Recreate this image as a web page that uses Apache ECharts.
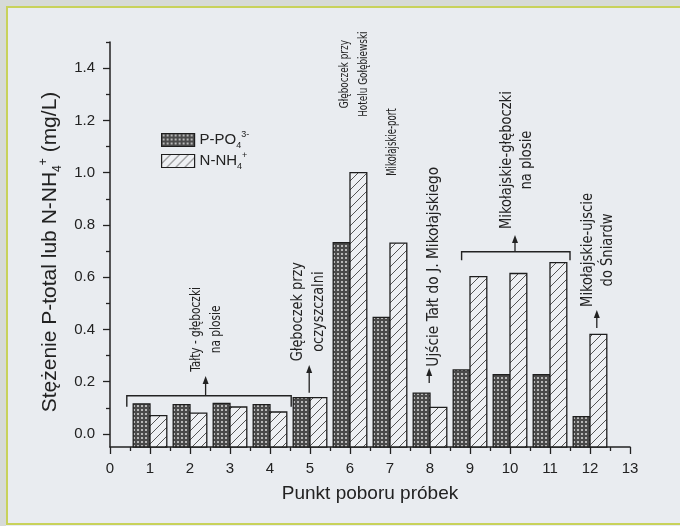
<!DOCTYPE html>
<html>
<head>
<meta charset="utf-8">
<script src="https://cdn.jsdelivr.net/npm/echarts@6/dist/echarts.min.js"></script>
<style>
html,body{margin:0;padding:0;background:#e9ecf0;}
#chart{width:680px;height:526px;}
</style>
</head>
<body>
<div id="chart"></div>
<script>
// ---- data ----
const sites = [1, 2, 3, 4, 5, 6, 7, 8, 9, 10, 11, 12];
const pPO4  = [0.115, 0.112, 0.117, 0.112, 0.139, 0.732, 0.446, 0.156, 0.245, 0.227, 0.227, 0.066];
const nNH4  = [0.070, 0.080, 0.103, 0.084, 0.139, 1.000, 0.730, 0.102, 0.602, 0.614, 0.656, 0.381];
const xTickLabels = [0, 1, 2, 3, 4, 5, 6, 7, 8, 9, 10, 11, 12, 13];
const yMajorTicks = [0, 0.2, 0.4, 0.6, 0.8, 1.0, 1.2, 1.4];
const yMinorTicks = [0.1, 0.3, 0.5, 0.7, 0.9, 1.1, 1.3, 1.5];
const annotationTexts = [
  ['Tałty - głęboczki', 'na plosie'],
  ['Głęboczek przy', 'oczyszczalni'],
  ['Głęboczek przy', 'Hotelu Gołębiewski'],
  ['Mikołajskie-port'],
  ['Ujście Tałt do J. Mikołajskiego'],
  ['Mikołajskie-głęboczki', 'na plosie'],
  ['Mikołajskie-ujscie', 'do Śniardw']
];

// ---- layout (axis units) and text styling ----
const Y_MIN = -0.05, Y_MAX = 1.5, X_MIN = 0, X_MAX = 13;
const HALF_W = 0.42;
const annotationLayout = [
  {tx: 2.42, ty: 0.400, fs: 14, sx: 0.84, lh: 20, arrow: [2.39, 0.146, 0.222], bracket: [0.42, 4.53, 0.146, 0.104]},
  {tx: 4.97, ty: 0.468, fs: 15, sx: 0.96, lh: 21, arrow: [4.98, 0.158, 0.264]},
  {tx: 6.10, ty: 1.377, fs: 13, sx: 0.76, lh: 19},
  {tx: 7.05, ty: 1.117, fs: 14, sx: 0.68, lh: 20},
  {tx: 8.11, ty: 0.640, fs: 15, sx: 1.02, lh: 20, arrow: [7.98, 0.195, 0.252]},
  {tx: 10.18, ty: 1.048, fs: 15, sx: 0.97, lh: 20, arrow: [10.125, 0.697, 0.761], bracket: [8.79, 11.5, 0.697, 0.665]},
  {tx: 12.20, ty: 0.704, fs: 15, sx: 0.97, lh: 20, arrow: [12.17, 0.405, 0.474]}
];

const FONT = "'Liberation Sans', Arial, sans-serif";
const NARROW = "'Liberation Sans Narrow', 'Arial Narrow', 'DejaVu Sans Condensed', sans-serif";
const INK = '#222222';

function makeDotPattern() {
  const c = document.createElement('canvas');
  c.width = 4; c.height = 4;
  const g = c.getContext('2d');
  g.fillStyle = '#4a4a4a'; g.fillRect(0, 0, 4, 4);
  g.fillStyle = '#b8b8b8'; g.fillRect(1, 1, 2, 2);
  return {image: c, repeat: 'repeat'};
}
function makeHatchPattern() {
  const s = 9;
  const c = document.createElement('canvas');
  c.width = s; c.height = s;
  const g = c.getContext('2d');
  g.fillStyle = '#eef0f3'; g.fillRect(0, 0, s, s);
  g.strokeStyle = '#555555'; g.lineWidth = 1;
  g.beginPath();
  g.moveTo(-1, s + 1); g.lineTo(s + 1, -1);
  g.moveTo(-1, 1); g.lineTo(1, -1);
  g.moveTo(s - 1, s + 1); g.lineTo(s + 1, s - 1);
  g.stroke();
  return {image: c, repeat: 'repeat'};
}
const patP = makeDotPattern();
const patN = makeHatchPattern();

function barRenderer(side, fill) {
  return function (params, api) {
    const x = api.value(0), v = api.value(1);
    const x0 = side < 0 ? x - HALF_W : x;
    const x1 = side < 0 ? x : x + HALF_W;
    const tl = api.coord([x0, v]);
    const br = api.coord([x1, Y_MIN]);
    return {
      type: 'rect',
      shape: {x: tl[0], y: tl[1], width: br[0] - tl[0], height: br[1] - tl[1]},
      style: {fill: fill, stroke: '#1e1e1e', lineWidth: 1.3}
    };
  };
}

function annRenderer(params, api) {
  const a = annotationLayout[params.dataIndex];
  const lines = annotationTexts[params.dataIndex];
  const children = [];
  const c = api.coord([a.tx, a.ty]);
  children.push({
    type: 'text', x: c[0], y: c[1], rotation: Math.PI / 2, scaleX: a.sx, scaleY: 1,
    style: {text: lines.join('\n'), fill: INK, fontSize: a.fs, fontFamily: NARROW,
            align: 'center', verticalAlign: 'middle', lineHeight: a.lh}
  });
  if (a.arrow) {
    const p0 = api.coord([a.arrow[0], a.arrow[1]]);
    const p1 = api.coord([a.arrow[0], a.arrow[2]]);
    children.push({type: 'line', shape: {x1: p0[0], y1: p0[1], x2: p1[0], y2: p1[1] + 5},
                   style: {stroke: INK, lineWidth: 1.3}});
    children.push({type: 'polygon', shape: {points: [[p1[0], p1[1]], [p1[0] - 3, p1[1] + 8], [p1[0] + 3, p1[1] + 8]]},
                   style: {fill: INK}});
  }
  if (a.bracket) {
    const b = a.bracket;
    const pts = [api.coord([b[0], b[3]]), api.coord([b[0], b[2]]), api.coord([b[1], b[2]]), api.coord([b[1], b[3]])];
    children.push({type: 'polyline', shape: {points: pts}, style: {stroke: INK, lineWidth: 1.4, fill: null}});
  }
  return {type: 'group', children: children};
}

const chart = echarts.init(document.getElementById('chart'), null, {renderer: 'canvas'});
const subSup = {
  sub: {fontSize: 9, lineHeight: 9, verticalAlign: 'bottom', fontFamily: FONT, color: INK},
  sup: {fontSize: 9, lineHeight: 9, verticalAlign: 'top', fontFamily: FONT, color: INK}
};

chart.setOption({
  backgroundColor: '#e9ecf0',
  animation: false,
  graphic: [
    {type: 'rect', shape: {x: 0, y: 0, width: 680, height: 6}, style: {fill: '#d6dad7'}, silent: true},
    {type: 'rect', shape: {x: 0, y: 0, width: 6, height: 526}, style: {fill: '#d6dad7'}, silent: true},
    {type: 'rect', shape: {x: 7, y: 7, width: 690, height: 517}, style: {fill: null, stroke: '#c8d25a', lineWidth: 2}, silent: true}
  ],
  grid: {left: 110, right: 50, top: 42, bottom: 79, containLabel: false, outerBoundsMode: 'none'},
  legend: {
    orient: 'vertical', left: 161, top: 130, padding: 0, itemGap: 1,
    icon: 'rect', itemWidth: 33, itemHeight: 13,
    data: [
      {name: 'P-PO4', itemStyle: {color: patP, borderColor: '#1e1e1e', borderWidth: 1.2}},
      {name: 'N-NH4', itemStyle: {color: patN, borderColor: '#1e1e1e', borderWidth: 1.2}}
    ],
    formatter: function (n) { return n === 'P-PO4' ? 'P-PO{sub|4}{sup|3-}' : 'N-NH{sub|4}{sup|+}'; },
    textStyle: {fontSize: 15, fontFamily: FONT, color: INK, lineHeight: 20, rich: subSup}
  },
  xAxis: {
    type: 'value', min: X_MIN, max: X_MAX, interval: 1,
    name: 'Punkt poboru próbek', nameLocation: 'middle', nameGap: 37,
    nameTextStyle: {fontSize: 19, fontFamily: FONT, color: INK},
    axisLine: {onZero: false, lineStyle: {color: INK, width: 1.5}},
    axisTick: {show: true, length: 7, lineStyle: {color: INK, width: 1.3}},
    minorTick: {show: true, splitNumber: 2, length: 4, lineStyle: {color: INK, width: 1.3}},
    axisLabel: {fontSize: 15, fontFamily: FONT, color: INK, margin: 14,
                formatter: function (v) { return xTickLabels.indexOf(v) >= 0 ? String(v) : ''; }},
    splitLine: {show: false}, minorSplitLine: {show: false}
  },
  yAxis: [
    {
      type: 'value', min: Y_MIN, max: Y_MAX, position: 'left',
      name: 'Stężenie P-total lub N-NH{sub|4}{sup|+} (mg/L)', nameLocation: 'middle', nameRotate: 90, nameGap: 46,
      nameTextStyle: {fontSize: 21, fontFamily: FONT, color: INK, lineHeight: 26, padding: [0, 15, 0, 0],
                      rich: {sub: {fontSize: 12, lineHeight: 12, verticalAlign: 'bottom', fontFamily: FONT, color: INK},
                             sup: {fontSize: 12, lineHeight: 12, verticalAlign: 'top', fontFamily: FONT, color: INK}}},
      axisLine: {show: true, onZero: false, lineStyle: {color: INK, width: 1.5}},
      axisTick: {show: true, length: 7, customValues: yMajorTicks, lineStyle: {color: INK, width: 1.3}},
      axisLabel: {fontSize: 15, fontFamily: FONT, color: INK, margin: 15, customValues: yMajorTicks,
                  formatter: function (v) { return v.toFixed(1); }},
      splitLine: {show: false}
    },
    {
      type: 'value', min: Y_MIN, max: Y_MAX, position: 'left',
      axisLine: {show: false},
      axisTick: {show: true, length: 4, customValues: yMinorTicks, lineStyle: {color: INK, width: 1.3}},
      axisLabel: {show: false},
      splitLine: {show: false}
    }
  ],
  series: [
    {
      name: 'P-PO4', type: 'custom', renderItem: barRenderer(-1, patP), clip: false,
      itemStyle: {color: patP, borderColor: '#1e1e1e', borderWidth: 1.2},
      encode: {x: 0, y: 1},
      data: sites.map(function (s, i) { return [s, pPO4[i]]; })
    },
    {
      name: 'N-NH4', type: 'custom', renderItem: barRenderer(1, patN), clip: false,
      itemStyle: {color: patN, borderColor: '#1e1e1e', borderWidth: 1.2},
      encode: {x: 0, y: 1},
      data: sites.map(function (s, i) { return [s, nNH4[i]]; })
    },
    {
      name: 'annotations', type: 'custom', renderItem: annRenderer, clip: false, silent: true,
      encode: {x: 0, y: 1},
      data: annotationLayout.map(function (a) { return [a.tx, a.ty]; })
    }
  ]
});
</script>
</body>
</html>
